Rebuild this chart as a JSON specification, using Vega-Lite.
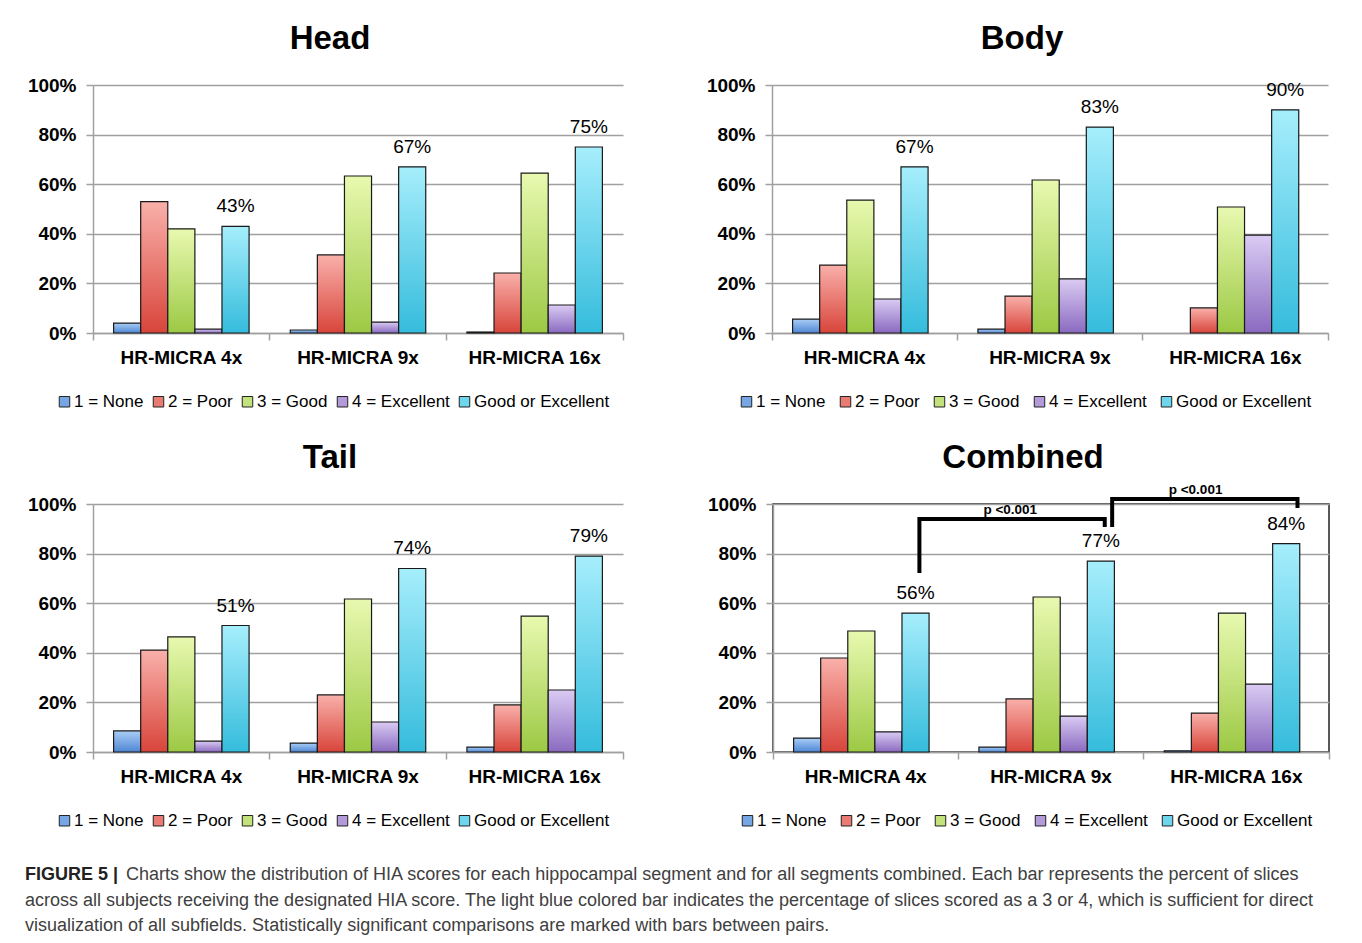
{
  "$schema": "https://vega.github.io/schema/vega-lite/v6.json",
  "background": "white",
  "padding": {"left": 25, "top": 23, "right": 0, "bottom": 0},
  "datasets": {
    "bars": [
      {"panel": "Head", "cat": "HR-MICRA 4x", "series": "1 = None", "v": 0.04},
      {"panel": "Head", "cat": "HR-MICRA 4x", "series": "2 = Poor", "v": 0.53},
      {"panel": "Head", "cat": "HR-MICRA 4x", "series": "3 = Good", "v": 0.42},
      {"panel": "Head", "cat": "HR-MICRA 4x", "series": "4 = Excellent", "v": 0.016},
      {"panel": "Head", "cat": "HR-MICRA 4x", "series": "Good or Excellent", "v": 0.43},
      {"panel": "Head", "cat": "HR-MICRA 9x", "series": "1 = None", "v": 0.012},
      {"panel": "Head", "cat": "HR-MICRA 9x", "series": "2 = Poor", "v": 0.315},
      {"panel": "Head", "cat": "HR-MICRA 9x", "series": "3 = Good", "v": 0.633},
      {"panel": "Head", "cat": "HR-MICRA 9x", "series": "4 = Excellent", "v": 0.044},
      {"panel": "Head", "cat": "HR-MICRA 9x", "series": "Good or Excellent", "v": 0.67},
      {"panel": "Head", "cat": "HR-MICRA 16x", "series": "1 = None", "v": 0.004},
      {"panel": "Head", "cat": "HR-MICRA 16x", "series": "2 = Poor", "v": 0.242},
      {"panel": "Head", "cat": "HR-MICRA 16x", "series": "3 = Good", "v": 0.645},
      {"panel": "Head", "cat": "HR-MICRA 16x", "series": "4 = Excellent", "v": 0.113},
      {"panel": "Head", "cat": "HR-MICRA 16x", "series": "Good or Excellent", "v": 0.75},
      {"panel": "Body", "cat": "HR-MICRA 4x", "series": "1 = None", "v": 0.056},
      {"panel": "Body", "cat": "HR-MICRA 4x", "series": "2 = Poor", "v": 0.274},
      {"panel": "Body", "cat": "HR-MICRA 4x", "series": "3 = Good", "v": 0.536},
      {"panel": "Body", "cat": "HR-MICRA 4x", "series": "4 = Excellent", "v": 0.137},
      {"panel": "Body", "cat": "HR-MICRA 4x", "series": "Good or Excellent", "v": 0.67},
      {"panel": "Body", "cat": "HR-MICRA 9x", "series": "1 = None", "v": 0.016},
      {"panel": "Body", "cat": "HR-MICRA 9x", "series": "2 = Poor", "v": 0.149},
      {"panel": "Body", "cat": "HR-MICRA 9x", "series": "3 = Good", "v": 0.617},
      {"panel": "Body", "cat": "HR-MICRA 9x", "series": "4 = Excellent", "v": 0.218},
      {"panel": "Body", "cat": "HR-MICRA 9x", "series": "Good or Excellent", "v": 0.83},
      {"panel": "Body", "cat": "HR-MICRA 16x", "series": "1 = None", "v": 0},
      {"panel": "Body", "cat": "HR-MICRA 16x", "series": "2 = Poor", "v": 0.101},
      {"panel": "Body", "cat": "HR-MICRA 16x", "series": "3 = Good", "v": 0.508},
      {"panel": "Body", "cat": "HR-MICRA 16x", "series": "4 = Excellent", "v": 0.395},
      {"panel": "Body", "cat": "HR-MICRA 16x", "series": "Good or Excellent", "v": 0.9},
      {"panel": "Tail", "cat": "HR-MICRA 4x", "series": "1 = None", "v": 0.085},
      {"panel": "Tail", "cat": "HR-MICRA 4x", "series": "2 = Poor", "v": 0.411},
      {"panel": "Tail", "cat": "HR-MICRA 4x", "series": "3 = Good", "v": 0.464},
      {"panel": "Tail", "cat": "HR-MICRA 4x", "series": "4 = Excellent", "v": 0.044},
      {"panel": "Tail", "cat": "HR-MICRA 4x", "series": "Good or Excellent", "v": 0.51},
      {"panel": "Tail", "cat": "HR-MICRA 9x", "series": "1 = None", "v": 0.036},
      {"panel": "Tail", "cat": "HR-MICRA 9x", "series": "2 = Poor", "v": 0.23},
      {"panel": "Tail", "cat": "HR-MICRA 9x", "series": "3 = Good", "v": 0.617},
      {"panel": "Tail", "cat": "HR-MICRA 9x", "series": "4 = Excellent", "v": 0.121},
      {"panel": "Tail", "cat": "HR-MICRA 9x", "series": "Good or Excellent", "v": 0.74},
      {"panel": "Tail", "cat": "HR-MICRA 16x", "series": "1 = None", "v": 0.02},
      {"panel": "Tail", "cat": "HR-MICRA 16x", "series": "2 = Poor", "v": 0.19},
      {"panel": "Tail", "cat": "HR-MICRA 16x", "series": "3 = Good", "v": 0.548},
      {"panel": "Tail", "cat": "HR-MICRA 16x", "series": "4 = Excellent", "v": 0.25},
      {"panel": "Tail", "cat": "HR-MICRA 16x", "series": "Good or Excellent", "v": 0.79},
      {"panel": "Combined", "cat": "HR-MICRA 4x", "series": "1 = None", "v": 0.056},
      {"panel": "Combined", "cat": "HR-MICRA 4x", "series": "2 = Poor", "v": 0.379},
      {"panel": "Combined", "cat": "HR-MICRA 4x", "series": "3 = Good", "v": 0.488},
      {"panel": "Combined", "cat": "HR-MICRA 4x", "series": "4 = Excellent", "v": 0.081},
      {"panel": "Combined", "cat": "HR-MICRA 4x", "series": "Good or Excellent", "v": 0.56},
      {"panel": "Combined", "cat": "HR-MICRA 9x", "series": "1 = None", "v": 0.02},
      {"panel": "Combined", "cat": "HR-MICRA 9x", "series": "2 = Poor", "v": 0.214},
      {"panel": "Combined", "cat": "HR-MICRA 9x", "series": "3 = Good", "v": 0.625},
      {"panel": "Combined", "cat": "HR-MICRA 9x", "series": "4 = Excellent", "v": 0.145},
      {"panel": "Combined", "cat": "HR-MICRA 9x", "series": "Good or Excellent", "v": 0.77},
      {"panel": "Combined", "cat": "HR-MICRA 16x", "series": "1 = None", "v": 0.005},
      {"panel": "Combined", "cat": "HR-MICRA 16x", "series": "2 = Poor", "v": 0.157},
      {"panel": "Combined", "cat": "HR-MICRA 16x", "series": "3 = Good", "v": 0.56},
      {"panel": "Combined", "cat": "HR-MICRA 16x", "series": "4 = Excellent", "v": 0.274},
      {"panel": "Combined", "cat": "HR-MICRA 16x", "series": "Good or Excellent", "v": 0.84}
    ],
    "bracket1": [
      {"cat": "HR-MICRA 4x", "v": 0.722, "k": 1},
      {"cat": "HR-MICRA 4x", "v": 0.94, "k": 2},
      {"cat": "HR-MICRA 9x", "v": 0.94, "k": 3},
      {"cat": "HR-MICRA 9x", "v": 0.907, "k": 4}
    ],
    "bracket2": [
      {"cat": "HR-MICRA 9x", "v": 0.907, "k": 1},
      {"cat": "HR-MICRA 9x", "v": 1.02, "k": 2},
      {"cat": "HR-MICRA 16x", "v": 1.02, "k": 3},
      {"cat": "HR-MICRA 16x", "v": 0.984, "k": 4}
    ],
    "pvals": [
      {"cat": "HR-MICRA 9x", "v": 0.976, "label": "p <0.001"},
      {"cat": "HR-MICRA 16x", "v": 1.056, "label": "p <0.001"}
    ],
    "caption": [
      {"line": 1, "part": "head", "text": "FIGURE 5 |"},
      {"line": 1, "part": "body", "text": "Charts show the distribution of HIA scores for each hippocampal segment and for all segments combined. Each bar represents the percent of slices"},
      {"line": 2, "part": "body", "text": "across all subjects receiving the designated HIA score. The light blue colored bar indicates the percentage of slices scored as a 3 or 4, which is sufficient for direct"},
      {"line": 3, "part": "body", "text": "visualization of all subfields. Statistically significant comparisons are marked with bars between pairs."}
    ]
  },
  "concat": [
    {
      "vconcat": [
        {
          "hconcat": [
            {
              "title": {"text": "Head", "frame": "group", "dx": -28},
              "width": 530, "height": 248,
              "layer": [
                {
                  "data": {"name": "bars"},
                  "transform": [{"filter": "datum.panel === 'Head' && datum.v > 0"}],
                  "mark": {"type": "bar"},
                  "encoding": {
                    "x": {"field": "cat", "type": "nominal", "title": null, "sort": ["HR-MICRA 4x", "HR-MICRA 9x", "HR-MICRA 16x"], "scale": {"paddingInner": 0, "paddingOuter": 0}, "axis": {"labelAngle": 0, "bandPosition": 1, "tickExtra": true, "grid": false, "labelPadding": 8}},
                    "xOffset": {"field": "series", "type": "nominal", "sort": ["1 = None", "2 = Poor", "3 = Good", "4 = Excellent", "Good or Excellent"], "scale": {"paddingInner": 0, "paddingOuter": 0.76}},
                    "y": {"field": "v", "type": "quantitative", "title": null, "scale": {"domain": [0, 1], "nice": false}, "axis": {"values": [0, 0.2, 0.4, 0.6, 0.8, 1], "format": ".0%", "grid": true, "labelPadding": 10}},
                    "fill": {"field": "series", "type": "nominal", "title": null, "scale": {"domain": ["1 = None", "2 = Poor", "3 = Good", "4 = Excellent", "Good or Excellent"], "range": ["#76a6e4", "#ea7b72", "#c4e27c", "#b39ad9", "#6dd5ec"]}, "legend": {"orient": "none", "legendX": -37, "legendY": 308}}
                  }
                },
                {
                  "data": {"name": "bars"},
                  "transform": [{"filter": "datum.panel === 'Head' && datum.v > 0"}],
                  "mark": {"type": "bar", "stroke": "#1a1a1a", "strokeWidth": 1.2},
                  "encoding": {
                    "x": {"field": "cat", "type": "nominal", "sort": ["HR-MICRA 4x", "HR-MICRA 9x", "HR-MICRA 16x"]},
                    "xOffset": {"field": "series", "type": "nominal", "sort": ["1 = None", "2 = Poor", "3 = Good", "4 = Excellent", "Good or Excellent"]},
                    "y": {"field": "v", "type": "quantitative"},
                    "fill": {"condition": [
                      {"test": "datum.series === '1 = None'", "value": {"gradient": "linear", "x1": 0, "y1": 0, "x2": 0, "y2": 1, "stops": [{"offset": 0, "color": "#a9cdf6"}, {"offset": 1, "color": "#4f87d4"}]}},
                      {"test": "datum.series === '2 = Poor'", "value": {"gradient": "linear", "x1": 0, "y1": 0, "x2": 0, "y2": 1, "stops": [{"offset": 0, "color": "#f9b0aa"}, {"offset": 1, "color": "#d8453b"}]}},
                      {"test": "datum.series === '3 = Good'", "value": {"gradient": "linear", "x1": 0, "y1": 0, "x2": 0, "y2": 1, "stops": [{"offset": 0, "color": "#e8f9b0"}, {"offset": 1, "color": "#9cc944"}]}},
                      {"test": "datum.series === '4 = Excellent'", "value": {"gradient": "linear", "x1": 0, "y1": 0, "x2": 0, "y2": 1, "stops": [{"offset": 0, "color": "#dacbf3"}, {"offset": 1, "color": "#8a6ac0"}]}}
                    ], "value": {"gradient": "linear", "x1": 0, "y1": 0, "x2": 0, "y2": 1, "stops": [{"offset": 0, "color": "#a6eefc"}, {"offset": 1, "color": "#35bcdc"}]}}
                  }
                },
                {
                  "data": {"name": "bars"},
                  "transform": [{"filter": "datum.panel === 'Head' && datum.series === 'Good or Excellent'"}],
                  "mark": {"type": "text", "dy": -20, "fontSize": 19, "color": "#000"},
                  "encoding": {
                    "x": {"field": "cat", "type": "nominal", "sort": ["HR-MICRA 4x", "HR-MICRA 9x", "HR-MICRA 16x"]},
                    "xOffset": {"field": "series", "type": "nominal", "sort": ["1 = None", "2 = Poor", "3 = Good", "4 = Excellent", "Good or Excellent"]},
                    "y": {"field": "v", "type": "quantitative"},
                    "text": {"field": "v", "format": ".0%"}
                  }
                }
              ]
            },
            {
              "title": {"text": "Body", "frame": "group", "dx": -28},
              "width": 556, "height": 248,
              "layer": [
                {
                  "data": {"name": "bars"},
                  "transform": [{"filter": "datum.panel === 'Body' && datum.v > 0"}],
                  "mark": {"type": "bar"},
                  "encoding": {
                    "x": {"field": "cat", "type": "nominal", "title": null, "sort": ["HR-MICRA 4x", "HR-MICRA 9x", "HR-MICRA 16x"], "scale": {"paddingInner": 0, "paddingOuter": 0}, "axis": {"labelAngle": 0, "bandPosition": 1, "tickExtra": true, "grid": false, "labelPadding": 8}},
                    "xOffset": {"field": "series", "type": "nominal", "sort": ["1 = None", "2 = Poor", "3 = Good", "4 = Excellent", "Good or Excellent"], "scale": {"paddingInner": 0, "paddingOuter": 0.76}},
                    "y": {"field": "v", "type": "quantitative", "title": null, "scale": {"domain": [0, 1], "nice": false}, "axis": {"values": [0, 0.2, 0.4, 0.6, 0.8, 1], "format": ".0%", "grid": true, "labelPadding": 10}},
                    "fill": {"field": "series", "type": "nominal", "title": null, "scale": {"domain": ["1 = None", "2 = Poor", "3 = Good", "4 = Excellent", "Good or Excellent"], "range": ["#76a6e4", "#ea7b72", "#c4e27c", "#b39ad9", "#6dd5ec"]}, "legend": {"orient": "none", "legendX": -34, "legendY": 308, "columnPadding": 11}}
                  }
                },
                {
                  "data": {"name": "bars"},
                  "transform": [{"filter": "datum.panel === 'Body' && datum.v > 0"}],
                  "mark": {"type": "bar", "stroke": "#1a1a1a", "strokeWidth": 1.2},
                  "encoding": {
                    "x": {"field": "cat", "type": "nominal", "sort": ["HR-MICRA 4x", "HR-MICRA 9x", "HR-MICRA 16x"]},
                    "xOffset": {"field": "series", "type": "nominal", "sort": ["1 = None", "2 = Poor", "3 = Good", "4 = Excellent", "Good or Excellent"]},
                    "y": {"field": "v", "type": "quantitative"},
                    "fill": {"condition": [
                      {"test": "datum.series === '1 = None'", "value": {"gradient": "linear", "x1": 0, "y1": 0, "x2": 0, "y2": 1, "stops": [{"offset": 0, "color": "#a9cdf6"}, {"offset": 1, "color": "#4f87d4"}]}},
                      {"test": "datum.series === '2 = Poor'", "value": {"gradient": "linear", "x1": 0, "y1": 0, "x2": 0, "y2": 1, "stops": [{"offset": 0, "color": "#f9b0aa"}, {"offset": 1, "color": "#d8453b"}]}},
                      {"test": "datum.series === '3 = Good'", "value": {"gradient": "linear", "x1": 0, "y1": 0, "x2": 0, "y2": 1, "stops": [{"offset": 0, "color": "#e8f9b0"}, {"offset": 1, "color": "#9cc944"}]}},
                      {"test": "datum.series === '4 = Excellent'", "value": {"gradient": "linear", "x1": 0, "y1": 0, "x2": 0, "y2": 1, "stops": [{"offset": 0, "color": "#dacbf3"}, {"offset": 1, "color": "#8a6ac0"}]}}
                    ], "value": {"gradient": "linear", "x1": 0, "y1": 0, "x2": 0, "y2": 1, "stops": [{"offset": 0, "color": "#a6eefc"}, {"offset": 1, "color": "#35bcdc"}]}}
                  }
                },
                {
                  "data": {"name": "bars"},
                  "transform": [{"filter": "datum.panel === 'Body' && datum.series === 'Good or Excellent'"}],
                  "mark": {"type": "text", "dy": -20, "fontSize": 19, "color": "#000"},
                  "encoding": {
                    "x": {"field": "cat", "type": "nominal", "sort": ["HR-MICRA 4x", "HR-MICRA 9x", "HR-MICRA 16x"]},
                    "xOffset": {"field": "series", "type": "nominal", "sort": ["1 = None", "2 = Poor", "3 = Good", "4 = Excellent", "Good or Excellent"]},
                    "y": {"field": "v", "type": "quantitative"},
                    "text": {"field": "v", "format": ".0%"}
                  }
                }
              ]
            }
          ],
          "spacing": 82,
          "resolve": {"scale": {"fill": "independent"}, "legend": {"fill": "independent"}}
        },
        {
          "hconcat": [
            {
              "title": {"text": "Tail", "frame": "group", "dx": -28},
              "width": 530, "height": 248,
              "layer": [
                {
                  "data": {"name": "bars"},
                  "transform": [{"filter": "datum.panel === 'Tail' && datum.v > 0"}],
                  "mark": {"type": "bar"},
                  "encoding": {
                    "x": {"field": "cat", "type": "nominal", "title": null, "sort": ["HR-MICRA 4x", "HR-MICRA 9x", "HR-MICRA 16x"], "scale": {"paddingInner": 0, "paddingOuter": 0}, "axis": {"labelAngle": 0, "bandPosition": 1, "tickExtra": true, "grid": false, "labelPadding": 8}},
                    "xOffset": {"field": "series", "type": "nominal", "sort": ["1 = None", "2 = Poor", "3 = Good", "4 = Excellent", "Good or Excellent"], "scale": {"paddingInner": 0, "paddingOuter": 0.76}},
                    "y": {"field": "v", "type": "quantitative", "title": null, "scale": {"domain": [0, 1], "nice": false}, "axis": {"values": [0, 0.2, 0.4, 0.6, 0.8, 1], "format": ".0%", "grid": true, "labelPadding": 10}},
                    "fill": {"field": "series", "type": "nominal", "title": null, "scale": {"domain": ["1 = None", "2 = Poor", "3 = Good", "4 = Excellent", "Good or Excellent"], "range": ["#76a6e4", "#ea7b72", "#c4e27c", "#b39ad9", "#6dd5ec"]}, "legend": {"orient": "none", "legendX": -37, "legendY": 308}}
                  }
                },
                {
                  "data": {"name": "bars"},
                  "transform": [{"filter": "datum.panel === 'Tail' && datum.v > 0"}],
                  "mark": {"type": "bar", "stroke": "#1a1a1a", "strokeWidth": 1.2},
                  "encoding": {
                    "x": {"field": "cat", "type": "nominal", "sort": ["HR-MICRA 4x", "HR-MICRA 9x", "HR-MICRA 16x"]},
                    "xOffset": {"field": "series", "type": "nominal", "sort": ["1 = None", "2 = Poor", "3 = Good", "4 = Excellent", "Good or Excellent"]},
                    "y": {"field": "v", "type": "quantitative"},
                    "fill": {"condition": [
                      {"test": "datum.series === '1 = None'", "value": {"gradient": "linear", "x1": 0, "y1": 0, "x2": 0, "y2": 1, "stops": [{"offset": 0, "color": "#a9cdf6"}, {"offset": 1, "color": "#4f87d4"}]}},
                      {"test": "datum.series === '2 = Poor'", "value": {"gradient": "linear", "x1": 0, "y1": 0, "x2": 0, "y2": 1, "stops": [{"offset": 0, "color": "#f9b0aa"}, {"offset": 1, "color": "#d8453b"}]}},
                      {"test": "datum.series === '3 = Good'", "value": {"gradient": "linear", "x1": 0, "y1": 0, "x2": 0, "y2": 1, "stops": [{"offset": 0, "color": "#e8f9b0"}, {"offset": 1, "color": "#9cc944"}]}},
                      {"test": "datum.series === '4 = Excellent'", "value": {"gradient": "linear", "x1": 0, "y1": 0, "x2": 0, "y2": 1, "stops": [{"offset": 0, "color": "#dacbf3"}, {"offset": 1, "color": "#8a6ac0"}]}}
                    ], "value": {"gradient": "linear", "x1": 0, "y1": 0, "x2": 0, "y2": 1, "stops": [{"offset": 0, "color": "#a6eefc"}, {"offset": 1, "color": "#35bcdc"}]}}
                  }
                },
                {
                  "data": {"name": "bars"},
                  "transform": [{"filter": "datum.panel === 'Tail' && datum.series === 'Good or Excellent'"}],
                  "mark": {"type": "text", "dy": -20, "fontSize": 19, "color": "#000"},
                  "encoding": {
                    "x": {"field": "cat", "type": "nominal", "sort": ["HR-MICRA 4x", "HR-MICRA 9x", "HR-MICRA 16x"]},
                    "xOffset": {"field": "series", "type": "nominal", "sort": ["1 = None", "2 = Poor", "3 = Good", "4 = Excellent", "Good or Excellent"]},
                    "y": {"field": "v", "type": "quantitative"},
                    "text": {"field": "v", "format": ".0%"}
                  }
                }
              ]
            },
            {
              "title": {"text": "Combined", "frame": "group", "dx": -28, "offset": 8},
              "width": 556, "height": 248,
              "view": {"stroke": "#222", "strokeWidth": 1.5},
              "layer": [
                {
                  "data": {"name": "bars"},
                  "transform": [{"filter": "datum.panel === 'Combined' && datum.v > 0"}],
                  "mark": {"type": "bar"},
                  "encoding": {
                    "x": {"field": "cat", "type": "nominal", "title": null, "sort": ["HR-MICRA 4x", "HR-MICRA 9x", "HR-MICRA 16x"], "scale": {"paddingInner": 0, "paddingOuter": 0}, "axis": {"labelAngle": 0, "bandPosition": 1, "tickExtra": true, "grid": false, "labelPadding": 8}},
                    "xOffset": {"field": "series", "type": "nominal", "sort": ["1 = None", "2 = Poor", "3 = Good", "4 = Excellent", "Good or Excellent"], "scale": {"paddingInner": 0, "paddingOuter": 0.76}},
                    "y": {"field": "v", "type": "quantitative", "title": null, "scale": {"domain": [0, 1], "nice": false}, "axis": {"values": [0, 0.2, 0.4, 0.6, 0.8, 1], "format": ".0%", "grid": true, "labelPadding": 10}},
                    "fill": {"field": "series", "type": "nominal", "title": null, "scale": {"domain": ["1 = None", "2 = Poor", "3 = Good", "4 = Excellent", "Good or Excellent"], "range": ["#76a6e4", "#ea7b72", "#c4e27c", "#b39ad9", "#6dd5ec"]}, "legend": {"orient": "none", "legendX": -34, "legendY": 308, "columnPadding": 11}}
                  }
                },
                {
                  "data": {"name": "bars"},
                  "transform": [{"filter": "datum.panel === 'Combined' && datum.v > 0"}],
                  "mark": {"type": "bar", "stroke": "#1a1a1a", "strokeWidth": 1.2},
                  "encoding": {
                    "x": {"field": "cat", "type": "nominal", "sort": ["HR-MICRA 4x", "HR-MICRA 9x", "HR-MICRA 16x"]},
                    "xOffset": {"field": "series", "type": "nominal", "sort": ["1 = None", "2 = Poor", "3 = Good", "4 = Excellent", "Good or Excellent"]},
                    "y": {"field": "v", "type": "quantitative"},
                    "fill": {"condition": [
                      {"test": "datum.series === '1 = None'", "value": {"gradient": "linear", "x1": 0, "y1": 0, "x2": 0, "y2": 1, "stops": [{"offset": 0, "color": "#a9cdf6"}, {"offset": 1, "color": "#4f87d4"}]}},
                      {"test": "datum.series === '2 = Poor'", "value": {"gradient": "linear", "x1": 0, "y1": 0, "x2": 0, "y2": 1, "stops": [{"offset": 0, "color": "#f9b0aa"}, {"offset": 1, "color": "#d8453b"}]}},
                      {"test": "datum.series === '3 = Good'", "value": {"gradient": "linear", "x1": 0, "y1": 0, "x2": 0, "y2": 1, "stops": [{"offset": 0, "color": "#e8f9b0"}, {"offset": 1, "color": "#9cc944"}]}},
                      {"test": "datum.series === '4 = Excellent'", "value": {"gradient": "linear", "x1": 0, "y1": 0, "x2": 0, "y2": 1, "stops": [{"offset": 0, "color": "#dacbf3"}, {"offset": 1, "color": "#8a6ac0"}]}}
                    ], "value": {"gradient": "linear", "x1": 0, "y1": 0, "x2": 0, "y2": 1, "stops": [{"offset": 0, "color": "#a6eefc"}, {"offset": 1, "color": "#35bcdc"}]}}
                  }
                },
                {
                  "data": {"name": "bars"},
                  "transform": [{"filter": "datum.panel === 'Combined' && datum.series === 'Good or Excellent'"}],
                  "mark": {"type": "text", "dy": -20, "fontSize": 19, "color": "#000"},
                  "encoding": {
                    "x": {"field": "cat", "type": "nominal", "sort": ["HR-MICRA 4x", "HR-MICRA 9x", "HR-MICRA 16x"]},
                    "xOffset": {"field": "series", "type": "nominal", "sort": ["1 = None", "2 = Poor", "3 = Good", "4 = Excellent", "Good or Excellent"]},
                    "y": {"field": "v", "type": "quantitative"},
                    "text": {"field": "v", "format": ".0%"}
                  }
                },
                {
                  "data": {"name": "bracket1"},
                  "mark": {"type": "line", "color": "#000", "strokeWidth": 4, "strokeJoin": "miter", "strokeCap": "butt"},
                  "encoding": {
                    "x": {"field": "cat", "type": "nominal", "bandPosition": 0.79, "sort": ["HR-MICRA 4x", "HR-MICRA 9x", "HR-MICRA 16x"]},
                    "y": {"field": "v", "type": "quantitative"},
                    "order": {"field": "k", "type": "quantitative"}
                  }
                },
                {
                  "data": {"name": "bracket2"},
                  "mark": {"type": "line", "color": "#000", "strokeWidth": 4, "strokeJoin": "miter", "strokeCap": "butt"},
                  "encoding": {
                    "x": {"field": "cat", "type": "nominal", "bandPosition": 0.83, "sort": ["HR-MICRA 4x", "HR-MICRA 9x", "HR-MICRA 16x"]},
                    "y": {"field": "v", "type": "quantitative"},
                    "order": {"field": "k", "type": "quantitative"}
                  }
                },
                {
                  "data": {"name": "pvals"},
                  "mark": {"type": "text", "fontSize": 13.5, "fontWeight": "bold", "color": "#000"},
                  "encoding": {
                    "x": {"field": "cat", "type": "nominal", "bandPosition": 0.28, "sort": ["HR-MICRA 4x", "HR-MICRA 9x", "HR-MICRA 16x"]},
                    "y": {"field": "v", "type": "quantitative"},
                    "text": {"field": "label"}
                  }
                }
              ]
            }
          ],
          "spacing": 82,
          "resolve": {"scale": {"fill": "independent"}, "legend": {"fill": "independent"}}
        }
      ],
      "spacing": 31,
      "resolve": {"scale": {"fill": "independent"}, "legend": {"fill": "independent"}}
    },
    {
      "width": 1300, "height": 51,
      "data": {"name": "caption"},
      "encoding": {
        "x": {"datum": 0, "type": "quantitative", "scale": {"domain": [0, 1]}, "axis": null},
        "y": {"field": "line", "type": "ordinal", "scale": {"type": "point", "padding": 0}, "axis": null}
      },
      "layer": [
        {
          "transform": [{"filter": "datum.part === 'head'"}],
          "mark": {"type": "text", "align": "left", "fontSize": 18, "fontWeight": "bold", "color": "#222", "dx": -68},
          "encoding": {"text": {"field": "text"}}
        },
        {
          "transform": [{"filter": "datum.part === 'body' && datum.line === 1"}],
          "mark": {"type": "text", "align": "left", "fontSize": 18, "color": "#404040", "dx": 33},
          "encoding": {"text": {"field": "text"}}
        },
        {
          "transform": [{"filter": "datum.part === 'body' && datum.line > 1"}],
          "mark": {"type": "text", "align": "left", "fontSize": 18, "color": "#404040", "dx": -68},
          "encoding": {"text": {"field": "text"}}
        }
      ]
    }
  ],
  "columns": 1,
  "align": "none",
  "spacing": 36,
  "resolve": {"scale": {"fill": "independent"}, "legend": {"fill": "independent"}},
  "config": {
    "font": "Liberation Sans",
    "view": {"stroke": null},
    "title": {"fontSize": 33, "fontWeight": "bold", "font": "Liberation Sans", "color": "#000", "offset": 20},
    "axis": {
      "domainColor": "#a0a0a0", "domainWidth": 1.5,
      "tickColor": "#a0a0a0", "tickWidth": 1.5, "tickSize": 7,
      "gridColor": "#a0a0a0", "gridWidth": 1.5,
      "labelFont": "Liberation Sans", "labelFontSize": 19, "labelFontWeight": "bold", "labelColor": "#000"
    },
    "legend": {
      "title": null, "direction": "horizontal", "symbolType": "square", "symbolSize": 110,
      "symbolStrokeColor": "#222", "symbolStrokeWidth": 1,
      "labelFont": "Liberation Sans", "labelFontSize": 17, "labelColor": "#000",
      "columnPadding": 6, "labelOffset": 1
    }
  }
}
